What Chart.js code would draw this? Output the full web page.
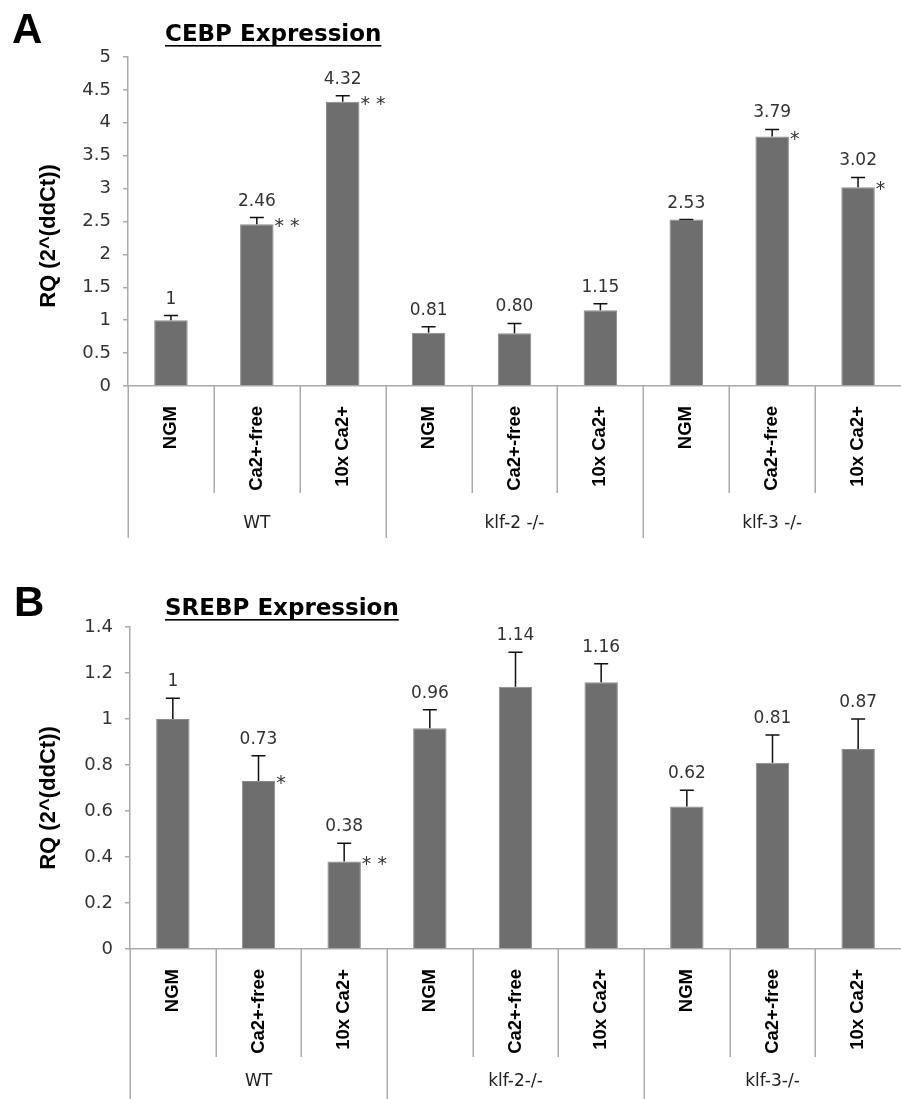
<!DOCTYPE html>
<html>
<head>
<meta charset="utf-8">
<script src="https://cdn.jsdelivr.net/npm/chart.js@4"></script>
<style>
  body { margin: 0; background: #fff; }
  canvas { position: absolute; left: 0; }
  #chartA { top: 0; }
  #chartB { top: 555px; }
</style>
</head>
<body>
<canvas id="chartA" width="901" height="555"></canvas>
<canvas id="chartB" width="901" height="544"></canvas>
<script>
// categories
const conditions = ['NGM', 'Ca2+-free', '10x Ca2+', 'NGM', 'Ca2+-free', '10x Ca2+', 'NGM', 'Ca2+-free', '10x Ca2+'];
const groupsA = ['WT', 'klf-2 -/-', 'klf-3 -/-'];
const groupsB = ['WT', 'klf-2-/-', 'klf-3-/-'];

// CEBP (panel A)
const cebpValues = [1, 2.46, 4.32, 0.81, 0.80, 1.15, 2.53, 3.79, 3.02];
const cebpLabels = ['1', '2.46', '4.32', '0.81', '0.80', '1.15', '2.53', '3.79', '3.02'];
const cebpErrors = [0.07, 0.10, 0.09, 0.09, 0.15, 0.10, 0.0, 0.11, 0.15];
const cebpStars = ['', '**', '**', '', '', '', '', '*', '*'];
const cebpTicks = ['0', '0.5', '1', '1.5', '2', '2.5', '3', '3.5', '4', '4.5', '5'];

// SREBP (panel B)
const srebpValues = [1, 0.73, 0.38, 0.96, 1.14, 1.16, 0.62, 0.81, 0.87];
const srebpLabels = ['1', '0.73', '0.38', '0.96', '1.14', '1.16', '0.62', '0.81', '0.87'];
const srebpErrors = [0.09, 0.11, 0.08, 0.08, 0.15, 0.08, 0.07, 0.12, 0.13];
const srebpStars = ['', '*', '**', '', '', '', '', '', ''];
const srebpTicks = ['0', '0.2', '0.4', '0.6', '0.8', '1', '1.2', '1.4'];

const NUM_FONT = '"DejaVu Sans", sans-serif';
const BOLD_FONT = '"Liberation Sans", Arial, sans-serif';
const AXIS_COLOR = '#ababab';

// draws error bars, value labels, stars, separators and the text around the plot
const annotate = {
    id: 'annotate',
    afterDatasetsDraw(chart, args, o) {
        const ctx = chart.ctx;
        const y = chart.scales.y;
        const meta = chart.getDatasetMeta(0);
        ctx.save();
        meta.data.forEach((bar, i) => {
            const v = o.values[i];
            const yTop = y.getPixelForValue(v + o.errors[i]);
            const yBar = y.getPixelForValue(v);
            // error bar (upper only)
            ctx.strokeStyle = '#111';
            ctx.lineWidth = 1.5;
            ctx.beginPath();
            ctx.moveTo(bar.x, yBar);
            ctx.lineTo(bar.x, yTop);
            ctx.moveTo(bar.x - 7, yTop);
            ctx.lineTo(bar.x + 7, yTop);
            ctx.stroke();
            // value label
            ctx.fillStyle = '#333';
            ctx.font = '17px ' + NUM_FONT;
            ctx.textAlign = 'center';
            ctx.textBaseline = 'alphabetic';
            ctx.fillText(o.labels[i], bar.x, yTop - 12);
            // significance
            if (o.stars[i]) {
                ctx.font = '19px ' + NUM_FONT;
                ctx.textAlign = 'left';
                ctx.fillText(o.stars[i].split('').join(' '), bar.x + bar.width / 2 + 1, yBar + 8);
            }
        });
        ctx.restore();
    },
    afterDraw(chart, args, o) {
        const ctx = chart.ctx;
        const x = chart.scales.x;
        const area = chart.chartArea;
        const w = (area.right - area.left) / 9;
        ctx.save();
        // category separators
        ctx.strokeStyle = AXIS_COLOR;
        ctx.lineWidth = 1.5;
        for (let i = 0; i < 9; i++) {
            const bx = Math.round(area.left + i * w) + 0.25;
            ctx.beginPath();
            ctx.moveTo(bx, area.bottom);
            ctx.lineTo(bx, i % 3 === 0 ? o.groupBottom : o.innerBottom);
            ctx.stroke();
        }
        // group labels
        ctx.fillStyle = '#222';
        ctx.font = '17px ' + NUM_FONT;
        ctx.textAlign = 'center';
        ctx.textBaseline = 'middle';
        o.groups.forEach((g, k) => {
            ctx.fillText(g, x.getPixelForValue(k * 3 + 1), o.groupY);
        });
        // panel letter
        ctx.fillStyle = '#000';
        ctx.font = 'bold 42px ' + BOLD_FONT;
        ctx.textAlign = 'left';
        ctx.textBaseline = 'alphabetic';
        ctx.fillText(o.letter, o.letterX, o.letterY);
        // title, underlined
        ctx.font = 'bold 23px ' + NUM_FONT;
        ctx.fillText(o.title, 165, o.titleY);
        const tw = ctx.measureText(o.title).width;
        ctx.fillRect(165, o.titleY + 4, tw, 1.6);
        // y axis title
        ctx.translate(49, o.yTitleY);
        ctx.rotate(-Math.PI / 2);
        ctx.font = 'bold 22px ' + BOLD_FONT;
        ctx.textAlign = 'center';
        ctx.textBaseline = 'middle';
        ctx.fillText('RQ (2^(ddCt))', 0, 0);
        ctx.restore();
    }
};

function makeChart(id, values, tickLabels, yMax, step, axisWidth, xHeight, padTop, opts) {
    return new Chart(document.getElementById(id), {
        type: 'bar',
        data: {
            labels: conditions,
            datasets: [{
                data: values,
                backgroundColor: 'rgb(110,110,110)',
                borderColor: 'rgb(140,140,140)',
                borderWidth: 1,
                barPercentage: 0.39,
                categoryPercentage: 1
            }]
        },
        options: {
            responsive: false,
            animation: false,
            layout: { padding: { top: padTop, left: 0, right: 0, bottom: 0 } },
            plugins: {
                legend: { display: false },
                tooltip: { enabled: false },
                annotate: opts
            },
            scales: {
                x: {
                    grid: { display: false },
                    border: { color: AXIS_COLOR, width: 1.5 },
                    ticks: {
                        minRotation: 90, maxRotation: 90, autoSkip: false,
                        padding: 12, color: '#000',
                        font: { family: BOLD_FONT, size: 18.5, weight: 'bold' }
                    },
                    afterFit: s => { s.height = xHeight; }
                },
                y: {
                    min: 0, max: yMax,
                    grid: { drawOnChartArea: false, drawTicks: true, tickLength: 5, color: AXIS_COLOR, lineWidth: 1.5 },
                    border: { color: AXIS_COLOR, width: 1.5 },
                    ticks: {
                        stepSize: step, padding: 12, color: '#333',
                        font: { family: NUM_FONT, size: 18 },
                        callback: (v, i) => tickLabels[i]
                    },
                    afterFit: s => { s.width = axisWidth; }
                }
            }
        },
        plugins: [annotate]
    });
}

makeChart('chartA', cebpValues, cebpTicks, 5, 0.5, 128, 169, 57, {
    values: cebpValues, labels: cebpLabels, errors: cebpErrors, stars: cebpStars,
    groups: groupsA, innerBottom: 493, groupBottom: 538, groupY: 524,
    letter: 'A', letterX: 12, letterY: 43, title: 'CEBP Expression', titleY: 41, yTitleY: 236
});

makeChart('chartB', srebpValues, srebpTicks, 1.4, 0.2, 130, 150, 72, {
    values: srebpValues, labels: srebpLabels, errors: srebpErrors, stars: srebpStars,
    groups: groupsB, innerBottom: 502, groupBottom: 544, groupY: 527,
    letter: 'B', letterX: 14, letterY: 61, title: 'SREBP Expression', titleY: 60, yTitleY: 243
});
</script>
</body>
</html>
